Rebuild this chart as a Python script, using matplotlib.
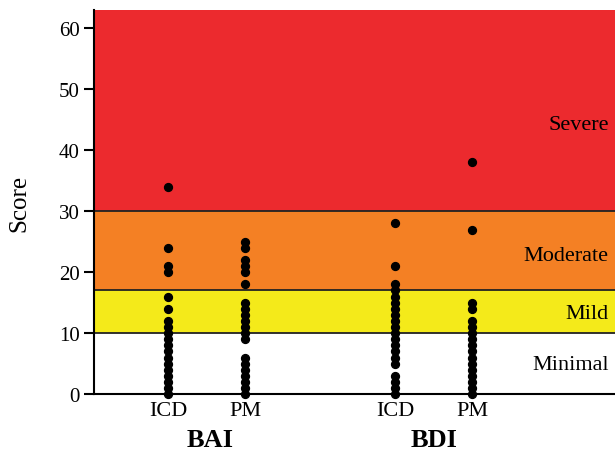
import matplotlib.pyplot as plt

# Scores (one dot per distinct score)
bai_icd = [34, 24, 21, 20, 16, 14, 12, 11, 10, 9, 8, 7, 6, 5, 4, 3, 2, 1, 0]
bai_pm = [25, 24, 22, 21, 20, 18, 15, 14, 13, 12, 11, 10, 9, 6, 5, 4, 3, 2, 1, 0]
bdi_icd = [28, 21, 18, 17, 16, 15, 14, 13, 12, 11, 10, 9, 8, 7, 6, 5, 3, 2, 1, 0]
bdi_pm = [38, 27, 15, 14, 12, 11, 10, 9, 8, 7, 6, 5, 4, 3, 2, 1, 0]

groups = [bai_icd, bai_pm, bdi_icd, bdi_pm]
positions = [1, 2, 3.95, 4.95]
tick_labels = ['ICD', 'PM', 'ICD', 'PM']
scale_names = ['BAI', 'BDI']

# severity bands: (lower, upper, colour, label)
bands = [
    (0, 10, 'white', 'Minimal'),
    (10, 17, '#f4ea1a', 'Mild'),
    (17, 30, '#f48024', 'Moderate'),
    (30, 63, '#ec2a2e', 'Severe'),
]
label_y = [4.8, 13.3, 22.8, 44.3]

plt.rcParams['font.family'] = ['Liberation Serif', 'DejaVu Serif']

fig = plt.figure(figsize=(6.15, 4.6), dpi=100)
ax = fig.add_axes([0.153, 0.141, 0.847, 0.835])
ax.set_xlim(0.04, 6.8)
ax.set_ylim(0, 63)

for (lo, hi, col, name), ly in zip(bands, label_y):
    ax.axhspan(lo, hi, facecolor=col, edgecolor='none', zorder=0)
    ax.text(6.72, ly, name, ha='right', va='center', fontsize=16)
for b in [10, 17, 30]:
    ax.axhline(b, color='#222222', lw=1.3, zorder=1)

for pos, vals in zip(positions, groups):
    ax.scatter([pos] * len(vals), vals, s=32, color='black', zorder=3, clip_on=False)

ax.set_xticks(positions)
ax.set_xticklabels(tick_labels, fontsize=16)
ax.tick_params(axis='x', length=0, pad=5)
ax.set_yticks(range(0, 61, 10))
ax.tick_params(axis='y', labelsize=15, length=7, width=1.5, direction='out')
ax.set_ylabel('Score', fontsize=18, labelpad=20)

for s in ['top', 'right']:
    ax.spines[s].set_visible(False)
ax.spines['left'].set_linewidth(1.5)
ax.spines['bottom'].set_linewidth(1.5)

ax.text(1.55, -7.5, scale_names[0], ha='center', va='center', fontsize=19, fontweight='bold')
ax.text(4.45, -7.5, scale_names[1], ha='center', va='center', fontsize=19, fontweight='bold')

fig.savefig('out.png', dpi=100)
